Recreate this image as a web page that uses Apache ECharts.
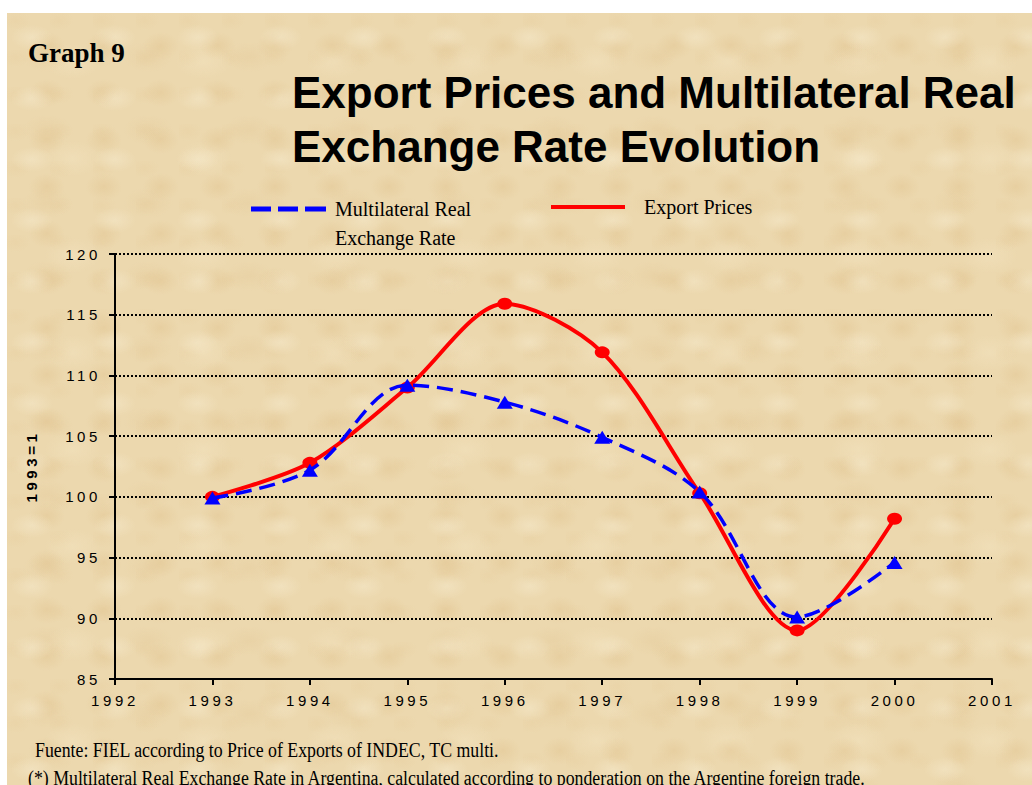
<!DOCTYPE html>
<html>
<head>
<meta charset="utf-8">
<script src="https://cdn.jsdelivr.net/npm/echarts@6/dist/echarts.min.js"></script>
<style>
html,body{margin:0;padding:0;background:#ffffff;}
#bg{position:absolute;left:7px;top:13px;width:1025px;height:772px;background-color:#ecd8ae;
background-image:
 radial-gradient(ellipse 30px 18px at 30% 40%, rgba(247,236,208,0.45), rgba(247,236,208,0) 70%),
 radial-gradient(ellipse 26px 20px at 70% 70%, rgba(222,190,135,0.35), rgba(222,190,135,0) 70%),
 radial-gradient(ellipse 40px 25px at 50% 50%, rgba(245,230,196,0.4), rgba(245,230,196,0) 70%),
 radial-gradient(ellipse 35px 22px at 40% 60%, rgba(226,198,148,0.3), rgba(226,198,148,0) 70%),
 radial-gradient(ellipse 22px 14px at 20% 20%, rgba(230,204,156,0.3), rgba(230,204,156,0) 70%);
background-size:83px 61px,57px 47px,131px 97px,101px 73px,43px 37px;}
#chart{position:absolute;left:0;top:0;width:1032px;height:785px;}
#chart text[style*="15px"]{letter-spacing:3.6px;}
</style>
</head>
<body>
<div id="bg"></div>
<div id="chart"></div>
<script>
const years = [1993, 1994, 1995, 1996, 1997, 1998, 1999, 2000];
const exportPrices = [100.0, 102.8, 109.0, 115.9, 111.9, 100.3, 89.0, 98.2];
const realExchangeRate = [99.9, 102.2, 109.2, 107.8, 104.9, 100.4, 90.1, 94.6];
const xRange = [1992, 2001];
const yRange = [85, 120];
const yStep = 5;

const exportData = years.map((y, i) => [y, exportPrices[i]]);
const rateData = years.map((y, i) => [y, realExchangeRate[i]]);

const chart = echarts.init(document.getElementById('chart'), null, {renderer: 'svg'});
const axisFont = 'Liberation Sans';
const serif = 'Liberation Serif';

chart.setOption({
  backgroundColor: 'transparent',
  animation: false,
  title: [
    {text: 'Graph 9', left: 28, top: 39, padding: 0,
     textStyle: {fontFamily: serif, fontWeight: 'bold', fontSize: 27, color: '#000'}},
    {text: 'Export Prices and Multilateral Real\nExchange Rate Evolution', left: 292, top: 65, padding: 0,
     textStyle: {fontFamily: axisFont, fontWeight: 'bold', fontSize: 44, lineHeight: 54, color: '#000'}}
  ],
  legend: [
    {data: ['Multilateral Real Exchange Rate'], left: 251, top: 194, padding: 0,
     itemWidth: 75, itemHeight: 5, selectedMode: false,
     icon: 'path://M0,0H20V5H0Z M27,0H47V5H27Z M54,0H75V5H54Z',
     itemStyle: {borderWidth: 0},
     formatter: () => 'Multilateral Real',
     textStyle: {fontFamily: serif, fontSize: 20, lineHeight: 30, color: '#000', padding: [0, 0, 0, 4]}},
    {data: ['Export Prices'], left: 551, top: 192, padding: 0,
     itemWidth: 74, itemHeight: 4, selectedMode: false, icon: 'rect',
     itemStyle: {borderWidth: 0},
     textStyle: {fontFamily: serif, fontSize: 20, lineHeight: 30, color: '#000', padding: [0, 0, 0, 14]}}
  ],
  grid: {left: 115, right: 40, top: 254, bottom: 106, containLabel: false, outerBoundsMode: 'none'},
  xAxis: {
    type: 'value', min: xRange[0], max: xRange[1], interval: 1,
    axisLine: {show: true, lineStyle: {color: '#000', width: 2}},
    axisTick: {show: true, length: 6, lineStyle: {color: '#000', width: 2}},
    axisLabel: {color: '#000', fontFamily: axisFont, fontSize: 15, margin: 14, formatter: v => String(v)},
    splitLine: {show: false}
  },
  yAxis: {
    type: 'value', min: yRange[0], max: yRange[1], interval: yStep,
    name: '1993=1', nameLocation: 'middle', nameGap: 76, nameRotate: 90,
    nameTextStyle: {color: '#000', fontFamily: axisFont, fontSize: 15, fontWeight: 'bold'},
    axisLine: {show: true, lineStyle: {color: '#000', width: 2}},
    axisTick: {show: true, length: 6, lineStyle: {color: '#000', width: 2}},
    axisLabel: {color: '#000', fontFamily: axisFont, fontSize: 15, margin: 14},
    splitLine: {show: true, lineStyle: {color: '#000', width: 2, type: [2, 2]}}
  },
  series: [
    {name: 'Export Prices', type: 'line', data: exportData, smooth: 0.3,
     symbol: 'circle', symbolSize: [15, 12], z: 2,
     lineStyle: {color: '#ff0000', width: 4},
     itemStyle: {color: '#ff0000', borderWidth: 0}},
    {name: 'Multilateral Real Exchange Rate', type: 'line', data: rateData, smooth: 0.35,
     symbol: 'triangle', symbolSize: [16, 13], z: 3,
     lineStyle: {color: '#0000ff', width: 3.5, type: [16, 8]},
     itemStyle: {color: '#0000ff', borderWidth: 0}}
  ],
  graphic: [
    {type: 'text', x: 335, y: 228, silent: true,
     style: {text: 'Exchange Rate', fontFamily: serif, fontSize: 20, fill: '#000', verticalAlign: 'top'}},
    {type: 'text', x: 35, y: 740, scaleX: 0.89, silent: true,
     style: {text: 'Fuente: FIEL according to Price of Exports of INDEC, TC multi.',
             fontFamily: serif, fontSize: 20, fill: '#000', verticalAlign: 'top'}},
    {type: 'text', x: 28, y: 768, scaleX: 0.89, silent: true,
     style: {text: '(*) Multilateral Real Exchange Rate in Argentina, calculated according to ponderation on the Argentine foreign trade.',
             fontFamily: serif, fontSize: 20, fill: '#000', verticalAlign: 'top'}}
  ]
});
</script>
</body>
</html>
